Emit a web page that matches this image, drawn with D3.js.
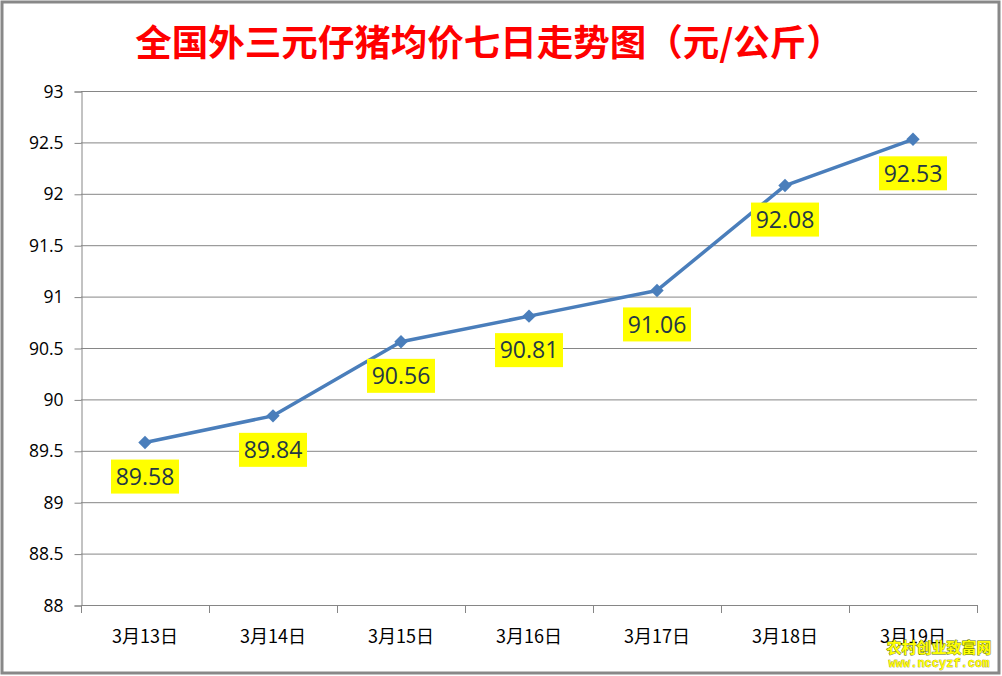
<!DOCTYPE html>
<html><head><meta charset="utf-8">
<script src="https://cdn.jsdelivr.net/npm/d3@7"></script>
<style>html,body{margin:0;padding:0;background:#fff;}svg{display:block;}</style>
</head><body>
<script>
const title = "全国外三元仔猪均价七日走势图（元/公斤）";
const categories = ["3月13日","3月14日","3月15日","3月16日","3月17日","3月18日","3月19日"];
const prices = [89.58, 89.84, 90.56, 90.81, 91.06, 92.08, 92.53];
const yTicks = [88, 88.5, 89, 89.5, 90, 90.5, 91, 91.5, 92, 92.5, 93];

const W = 1002, H = 676;
const svg = d3.select("body").append("svg").attr("width", W).attr("height", H);
svg.append("rect").attr("x",2).attr("y",2).attr("width",W-5).attr("height",H-5)
  .attr("fill","#fff").attr("stroke","#888").attr("stroke-width",3);

const L = 81, R = 977, T = 91, B = 605;
const x = d3.scaleBand().domain(categories).range([L, R]);
const y = d3.scaleLinear().domain([88, 93]).range([B, T]);

svg.append("text").attr("x", 489).attr("y", 56).attr("text-anchor","middle")
  .attr("font-family","'Noto Sans CJK SC'").attr("font-weight","bold").attr("font-size",36.5)
  .attr("fill","#FF0000").text(title);

// grid
svg.append("g").selectAll("line").data(yTicks).join("line")
  .attr("x1", L).attr("x2", R).attr("y1", d=>y(d)+0.5).attr("y2", d=>y(d)+0.5)
  .attr("stroke","#868686").attr("stroke-width",1);

// y axis
const yAxis = svg.append("g").attr("transform",`translate(${L+0.5},0.5)`)
  .call(d3.axisLeft(y).tickValues(yTicks).tickSize(7).tickPadding(11).tickFormat(d3.format("")));
yAxis.select(".domain").attr("stroke","#868686");
yAxis.selectAll(".tick line").attr("stroke","#868686");
yAxis.selectAll("text").attr("font-family","'Open Sans', Lato, sans-serif").attr("font-size",17.5).attr("fill","#000");

// x axis
const xAxis = svg.append("g").attr("transform",`translate(0,${B+0.5})`)
  .call(d3.axisBottom(x).tickSize(0).tickPadding(0));
xAxis.select(".domain").remove();
xAxis.selectAll("text").attr("font-family","'Noto Sans CJK SC'").attr("font-size",18).attr("fill","#000").attr("dy","1.3em")
  .attr("y", 14);
const bounds = categories.map(c=>x(c)).concat([R]);
svg.append("g").selectAll("line").data(bounds).join("line")
  .attr("x1", d=>Math.round(d)+0.5).attr("x2", d=>Math.round(d)+0.5).attr("y1", B).attr("y2", B+8)
  .attr("stroke","#868686");

const cx = d => x(d) + x.bandwidth()/2;
const pts = categories.map((c,i)=>[cx(c), y(prices[i])]);

svg.append("path").datum(pts).attr("d", d3.line())
  .attr("fill","none").attr("stroke","#4A7EBB").attr("stroke-width",3.5).attr("stroke-linejoin","round");

svg.append("g").selectAll("path").data(pts).join("path")
  .attr("transform", d=>`translate(${d[0]},${d[1]}) rotate(45)`)
  .attr("d", d3.symbol().type(d3.symbolSquare).size(90))
  .attr("fill","#4A7EBB");

// labels
const lab = svg.append("g").selectAll("g").data(pts).join("g")
  .attr("transform", d=>`translate(${d[0]},${d[1]+34})`);
lab.append("rect").attr("x",-34).attr("y",-17).attr("width",68).attr("height",34).attr("fill","#FFFF00");
lab.append("text").attr("text-anchor","middle").attr("dy","0.36em")
  .attr("font-family","'Open Sans', Lato, sans-serif").attr("font-size",23).attr("fill","#243746")
  .text((d,i)=>prices[i].toFixed(2));

// watermark
svg.append("text").attr("x", 939).attr("y", 653).attr("text-anchor","middle")
  .attr("font-family","'Noto Sans CJK SC'").attr("font-weight","bold").attr("font-size",15)
  .attr("fill","#FFFF00").attr("stroke","#556b00").attr("stroke-width",0.8).attr("paint-order","stroke")
  .text("农村创业致富网");
svg.append("text").attr("x", 939).attr("y", 667).attr("text-anchor","middle")
  .attr("font-family","'Liberation Mono', monospace").attr("font-weight","bold").attr("font-size",12)
  .attr("fill","#FFFF00").attr("stroke","#7a6a00").attr("stroke-width",0.5).attr("paint-order","stroke")
  .text("www.nccyzf.com");
</script>
</body></html>
